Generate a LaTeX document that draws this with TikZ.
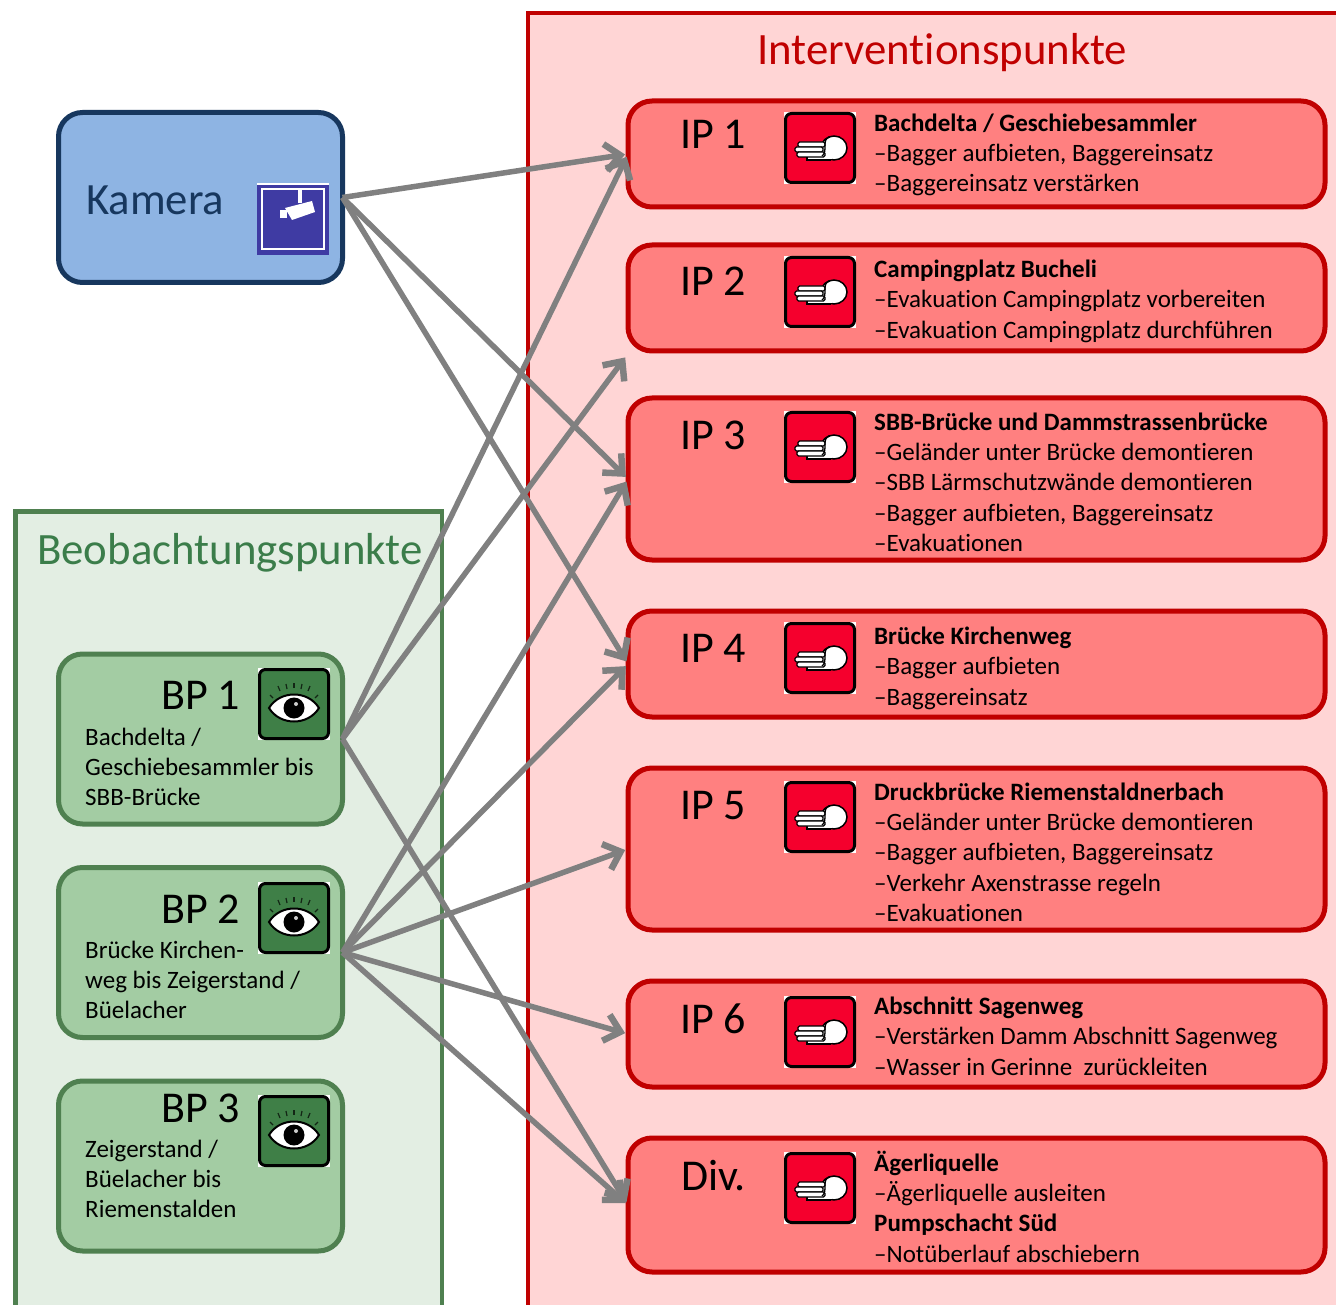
\documentclass[tikz,border=0pt]{standalone}
\usepackage{fontspec}
\setmainfont[Ligatures=NoCommon]{Carlito}
\usetikzlibrary{arrows.meta}
\definecolor{panelred}{HTML}{FFD5D5}
\definecolor{boxred}{HTML}{FF8080}
\definecolor{edgered}{HTML}{C00000}
\definecolor{panelgreen}{HTML}{E3EEE3}
\definecolor{boxgreen}{HTML}{A3CCA3}
\definecolor{edgegreen}{HTML}{4F8050}
\definecolor{titlegreen}{HTML}{3B7D4A}
\definecolor{boxblue}{HTML}{8EB4E3}
\definecolor{edgeblue}{HTML}{17375E}
\definecolor{arrowgray}{HTML}{808080}
\definecolor{iconred}{HTML}{F5002D}
\definecolor{icongreen}{HTML}{3F7F47}
\definecolor{iconblue}{HTML}{3F3BA3}
\tikzset{
  x=1pt,y=-1pt,
  ipbox/.style={draw=edgered,fill=boxred,line width=5pt,rounded corners=24pt,minimum width=697pt,outer sep=0pt,inner sep=0pt},
  bpbox/.style={draw=edgegreen,fill=boxgreen,line width=5pt,rounded corners=24pt,minimum width=284pt,minimum height=170pt,outer sep=0pt,inner sep=0pt},
  cambox/.style={draw=edgeblue,fill=boxblue,line width=5pt,rounded corners=24pt,minimum width=284pt,minimum height=170pt,outer sep=0pt,inner sep=0pt},
  biglabel/.style={anchor=base west,inner sep=0pt,font=\fontsize{44}{48}\selectfont},
  paneltitle/.style={anchor=base west,inner sep=0pt,font=\fontsize{44.8}{48}\selectfont},
  bodytext/.style={anchor=north west,inner sep=0pt,align=left,font=\fontsize{25}{30.2}\selectfont},
  link/.style={draw=arrowgray,line width=5.5pt,shorten >=3pt,-{Straight Barb[length=15pt,width=27pt,line width=6.5pt]}},
}
\newcommand{\firstline}{\rule{0pt}{20pt}}
\newcommand{\handicon}[2]{%
\begin{scope}[shift={(#1,#2)}]
  \fill[white] (0,0) rectangle (72,72);
  \draw[black,fill=iconred,line width=3pt,rounded corners=6pt] (1.5,1.5) rectangle (70.5,70.5);
  \draw[black,fill=white,line width=1.5pt] (23,44) rectangle (46,48);
  \draw[black,fill=white,line width=1.5pt] (50,36) ellipse[x radius=13,y radius=12];
  \fill[white] (38,30) rectangle (48,47);
  \foreach \a/\b/\c in {14/30/41,11/35/39,13/40/41}
    \draw[black,fill=white,line width=1.2pt,rounded corners=1.5pt] (\a,\b) rectangle (\c,\b+5);
  \draw[black,line width=1.3pt] (46,25) .. controls (41,26) and (41,30) .. (41,34) .. controls (41,38) and (41,42) .. (38,44);
\end{scope}}
\newcommand{\eyeicon}[2]{%
\begin{scope}[shift={(#1,#2)}]
  \fill[white] (0,0) rectangle (72,72);
  \draw[black,fill=icongreen,line width=3pt,rounded corners=6pt] (1.5,1.5) rectangle (70.5,70.5);
  \draw[black,fill=white,line width=2pt] (11,40) .. controls (22,22) and (50,22) .. (61,40) .. controls (50,58) and (22,58) .. (11,40) -- cycle;
  \fill[black] (36,40) circle[radius=10.5];
  \fill[white!80!black] (38,36) circle[radius=2];
  \foreach \a/\b/\c/\d in {12/27/15/30,20/18/22/23,28/16/29/21,36/15/36/20,44/16/43/21,52/18/50/23,60/27/57/30}
    \draw[black!70!icongreen,line width=1.2pt] (\a,\b) -- (\c,\d);
\end{scope}}
\newcommand{\camicon}[2]{%
\begin{scope}[shift={(#1,#2)}]
  \fill[iconblue] (0,0) rectangle (72,72);
  \fill[white] (0,0) rectangle (72,2);
  \draw[white,line width=2.5pt] (5,6) rectangle (67,66);
  \fill[white] (41,6) rectangle (45,20);
  \fill[white] (28,25) -- (55,18) -- (58,29) -- (35,37) -- cycle;
  \fill[white] (23,27) rectangle (30,35);
\end{scope}}
\begin{document}
\begin{tikzpicture}
\clip (0,0) rectangle (1336,1305);
% panels
\fill[white] (0,0) rectangle (1336,1305);
\draw[draw=edgered,fill=panelred,line width=4.5pt] (528,13) rectangle (1350,1320);
\draw[draw=edgegreen,fill=panelgreen,line width=4.5pt] (15.5,511.5) rectangle (442,1320);
\node[paneltitle,text=edgered] (titleip) at (757,65) {Interventionspunkte};
\node[paneltitle,text=titlegreen] (titlebp) at (37,564) {Beobachtungspunkte};
% source boxes
\node[cambox] (kamera) at (200.5,197.5) {};
\node[bpbox] (bp1) at (200.5,739) {};
\node[bpbox] (bp2) at (200.5,952.5) {};
\node[bpbox] (bp3) at (200.5,1166) {};
% target boxes
\node[ipbox,minimum height=106pt] (ip1) at (976.5,154) {};
\node[ipbox,minimum height=106pt] (ip2) at (976.5,298) {};
\node[ipbox,minimum height=162pt] (ip3) at (976.5,479) {};
\node[ipbox,minimum height=106pt] (ip4) at (976.5,664) {};
\node[ipbox,minimum height=162pt] (ip5) at (976.5,849) {};
\node[ipbox,minimum height=106pt] (ip6) at (976.5,1034) {};
\node[ipbox,minimum height=134pt] (div) at (976.5,1205) {};
\coordinate (ip2in) at (627,355);
% labels
\node[biglabel,text=edgeblue,font=\fontsize{44.7}{48}\selectfont] (lkam) at (86,214.5) {Kamera};
\camicon{257}{183}
\node[biglabel] (lip1) at (680,149) {IP 1};
\node[biglabel] (lip2) at (680,296) {IP 2};
\node[biglabel] (lip3) at (680,449) {IP 3};
\node[biglabel] (lip4) at (680,662) {IP 4};
\node[biglabel] (lip5) at (680,819) {IP 5};
\node[biglabel] (lip6) at (680,1033) {IP 6};
\node[biglabel] (ldiv) at (681,1190) {Div.};
\handicon{784}{112}
\handicon{784}{256}
\handicon{784}{411}
\handicon{784}{622}
\handicon{784}{781}
\handicon{784}{996}
\handicon{784}{1152}
\node[bodytext] (t1) at (874,111) {\firstline\textbf{Bachdelta / Geschiebesammler}\\–Bagger aufbieten, Baggereinsatz\\–Baggereinsatz verstärken};
\node[bodytext] (t2) at (874,257.5) {\firstline\textbf{Campingplatz Bucheli}\\–Evakuation Campingplatz vorbereiten\\–Evakuation Campingplatz durchführen};
\node[bodytext] (t3) at (874,410.3) {\firstline\textbf{SBB-Brücke und Dammstrassenbrücke}\\–Geländer unter Brücke demontieren\\–SBB Lärmschutzwände demontieren\\–Bagger aufbieten, Baggereinsatz\\–Evakuationen};
\node[bodytext] (t4) at (874,624.5) {\firstline\textbf{Brücke Kirchenweg}\\–Bagger aufbieten\\–Baggereinsatz};
\node[bodytext] (t5) at (874,780.3) {\firstline\textbf{Druckbrücke Riemenstaldnerbach}\\–Geländer unter Brücke demontieren\\–Bagger aufbieten, Baggereinsatz\\–Verkehr Axenstrasse regeln\\–Evakuationen};
\node[bodytext] (t6) at (874,994.5) {\firstline\textbf{Abschnitt Sagenweg}\\–Verstärken Damm Abschnitt Sagenweg\\–Wasser in Gerinne\ \ zurückleiten};
\node[bodytext] (t7) at (874,1151) {\firstline\textbf{Ägerliquelle}\\–Ägerliquelle ausleiten\\\textbf{Pumpschacht Süd}\\–Notüberlauf abschiebern};
\node[biglabel] (lbp1) at (161,709) {BP 1};
\node[biglabel] (lbp2) at (161,923) {BP 2};
\node[biglabel] (lbp3) at (161,1122) {BP 3};
\eyeicon{258}{668}
\eyeicon{258}{882}
\eyeicon{258}{1095}
\node[bodytext] (b1) at (85,725) {\firstline Bachdelta /\\Geschiebesammler bis\\SBB-Brücke};
\node[bodytext] (b2) at (85,938) {\firstline Brücke Kirchen-\\weg bis Zeigerstand /\\Büelacher};
\node[bodytext] (b3) at (85,1137) {\firstline Zeigerstand /\\Büelacher bis\\Riemenstalden};
% connectors
\draw[link] (kamera.east) -- (ip1.west);
\draw[link] (kamera.east) -- (ip3.west);
\draw[link] (kamera.east) -- (ip4.west);
\draw[link] (bp1.east) -- (ip1.west);
\draw[link] (bp1.east) -- (ip2in);
\draw[link] (bp1.east) -- (div.west);
\draw[link] (bp2.east) -- (ip3.west);
\draw[link] (bp2.east) -- (ip4.west);
\draw[link] (bp2.east) -- (ip5.west);
\draw[link] (bp2.east) -- (ip6.west);
\draw[link] (bp2.east) -- (div.west);
\end{tikzpicture}
\end{document}
